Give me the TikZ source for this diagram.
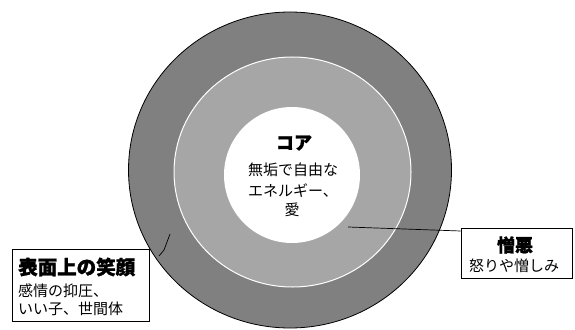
\documentclass[tikz,border=0pt]{standalone}
\usepackage{fontspec}
\setmainfont{Noto Sans CJK JP}[BoldFeatures={FakeBold=1.3}]
\begin{document}
\begin{tikzpicture}[x=1pt,y=-1pt,
  ringouter/.style={fill=outergray,draw=black,line width=0.8pt},
  ringmid/.style={fill=midgray,draw=white,line width=1pt},
  ringin/.style={fill=white,draw=none},
  titletext/.style={font=\fontsize{18}{20}\selectfont\bfseries,inner sep=0pt},
  bodytext/.style={font=\fontsize{15}{20}\selectfont,inner sep=0pt},
  labelbox/.style={draw=black,fill=white,line width=0.7pt,inner sep=0pt},
  leader/.style={draw=black,line width=0.7pt}]
\definecolor{outergray}{RGB}{128,128,128}
\definecolor{midgray}{RGB}{166,166,166}
\useasboundingbox (0,0) rectangle (575,329);
\begin{scope}
\clip (0,0) rectangle (575,329);
\path[ringouter] (290,170) ellipse [x radius=161.5pt, y radius=158pt];
\path[ringmid] (292.5,172) ellipse [x radius=118.5pt, y radius=115pt];
\path[ringin] (292,175) circle [radius=68pt];
\end{scope}
% center text
\node[titletext] (core) at (294,143) {コア};
\node[bodytext] (c1) at (293,170) {無垢で自由な};
\node[bodytext] (c2) at (293,191) {エネルギー、};
\node[bodytext] (c3) at (292,210) {愛};
% left box
\node[labelbox,minimum width=137pt,minimum height=72pt] (lbox) at (80.5,285) {};
\node[titletext,font=\fontsize{19.5}{20}\selectfont\bfseries,anchor=west] (lt) at (18,267) {表面上の笑顔};
\node[bodytext,anchor=west] (l1) at (18,291) {感情の抑圧、};
\node[bodytext,anchor=west] (l2) at (18,309) {いい子、世間体};
\coordinate (lend) at (170,234);
\coordinate (lstart) at (159,256);
\draw[leader] (lstart) -- (164,250) -- (lend);
% right box
\node[labelbox,minimum width=111pt,minimum height=50pt] (rbox) at (516.5,253) {};
\node[titletext] (rt) at (515,245) {憎悪};
\node[bodytext] (r1) at (514,266) {怒りや憎しみ};
\coordinate (rend) at (348,227);
\draw[leader] (rbox.west) ++(0,-22) coordinate (rstart) (rstart) -- (rend);
\end{tikzpicture}
\end{document}
